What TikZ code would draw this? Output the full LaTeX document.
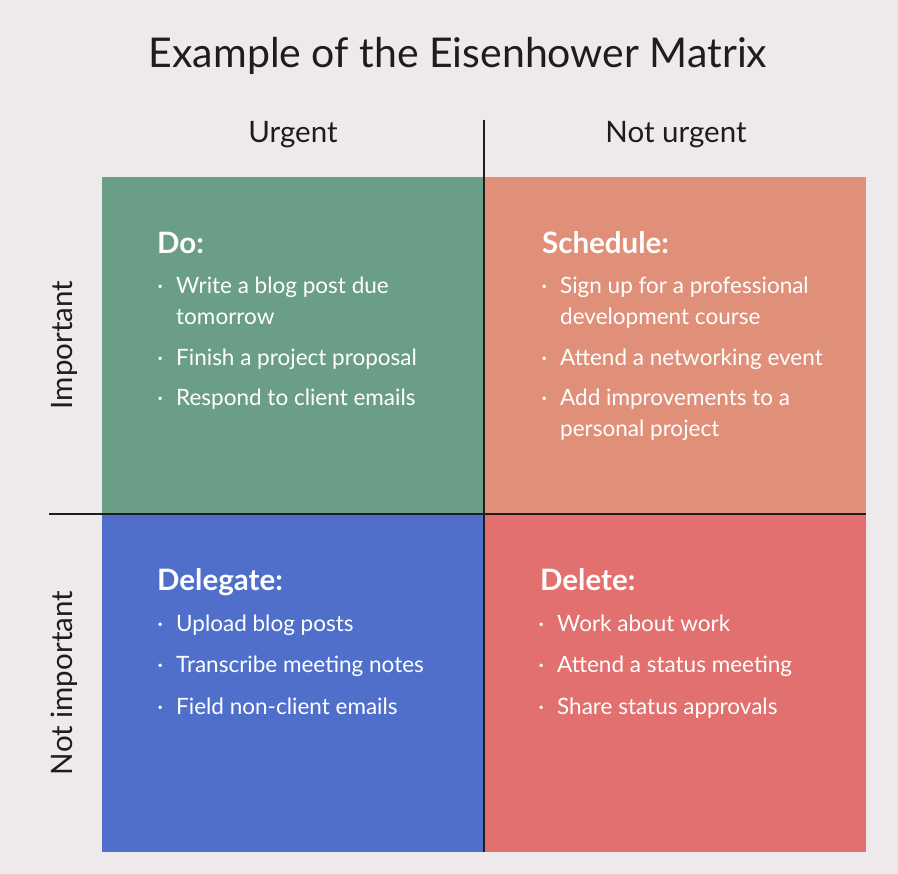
\documentclass[tikz,border=0pt]{standalone}
\usepackage{fontspec}
\setmainfont{Lato}
\usepackage{xcolor}
\definecolor{paper}{HTML}{EEE9EA}
\definecolor{dogreen}{HTML}{6B9E86}
\definecolor{schedsalmon}{HTML}{E09078}
\definecolor{delegblue}{HTML}{4F6FCB}
\definecolor{delred}{HTML}{E2706E}
\definecolor{ink}{HTML}{1E1C1E}
\usetikzlibrary{positioning}
\newcommand{\bul}{\llap{\textperiodcentered\hspace{13pt}}}

\begin{document}
\begin{tikzpicture}[x=1pt, y=-1pt,
  quad/.style={anchor=north west, minimum width=382pt, minimum height=337.5pt, inner sep=0pt, outer sep=0pt},
  head/.style={anchor=base west, inner sep=0pt, text=white, font=\fontsize{29.5}{34}\selectfont\bfseries},
  item/.style={anchor=base west, inner sep=0pt, align=left, text=white, font=\fontsize{22.5}{31}\selectfont},
  axislabel/.style={anchor=base, inner sep=0pt, text=ink, font=\fontsize{29.5}{34}\selectfont},
  axisline/.style={draw=ink, line width=1.6pt}]
  \fill[paper] (0,0) rectangle (898,874);
  \node[anchor=base, inner sep=0pt, text=ink, font=\fontsize{41}{48}\selectfont] (title) at (458,68) {Example of the Eisenhower Matrix};
  % quadrants
  \node[quad, fill=dogreen] (do) at (102,177) {};
  \node[quad, fill=schedsalmon] (schedule) at (484,177) {};
  \node[quad, fill=delegblue] (delegate) at (102,514.5) {};
  \node[quad, fill=delred] (delete) at (484,514.5) {};
  % axes
  \coordinate (vtop) at (484,120);
  \coordinate (vbot) at (484,852);
  \coordinate (hleft) at (49,514);
  \coordinate (hright) at (866,514);
  \draw[axisline] (vtop) -- (vbot);
  \draw[axisline] (hleft) -- (hright);
  \node[axislabel] (urgent) at (293,143) {Urgent};
  \node[axislabel] (noturgent) at (676,143) {Not urgent};
  \node[axislabel, rotate=90] (important) at (72,345) {Important};
  \node[axislabel, rotate=90] (notimportant) at (72,683) {Not important};
  % do (multi-line items sit on their last baseline)
  \node[head] (dohead) at (157,254) {Do:};
  \node[item] (do1) at (176,325) {\bul Write a blog post due\\tomorrow};
  \node[item] (do2) at (176,366) {\bul Finish a project proposal};
  \node[item] (do3) at (176,406) {\bul Respond to client emails};
  % schedule
  \node[head] (schedhead) at (542,254) {Schedule:};
  \node[item] (sched1) at (560,325) {\bul Sign up for a professional\\development course};
  \node[item] (sched2) at (560,366) {\bul Attend a networking event};
  \node[item] (sched3) at (560,437) {\bul Add improvements to a\\personal project};
  % delegate
  \node[head] (deleghead) at (157,591) {Delegate:};
  \node[item] (deleg1) at (176,632) {\bul Upload blog posts};
  \node[item] (deleg2) at (176,673) {\bul Transcribe meeting notes};
  \node[item] (deleg3) at (176,714) {\bul Field non-client emails};
  % delete
  \node[head] (delhead) at (540,591) {Delete:};
  \node[item] (del1) at (557,632) {\bul Work about work};
  \node[item] (del2) at (557,673) {\bul Attend a status meeting};
  \node[item] (del3) at (557,714) {\bul Share status approvals};
\end{tikzpicture}
\end{document}
